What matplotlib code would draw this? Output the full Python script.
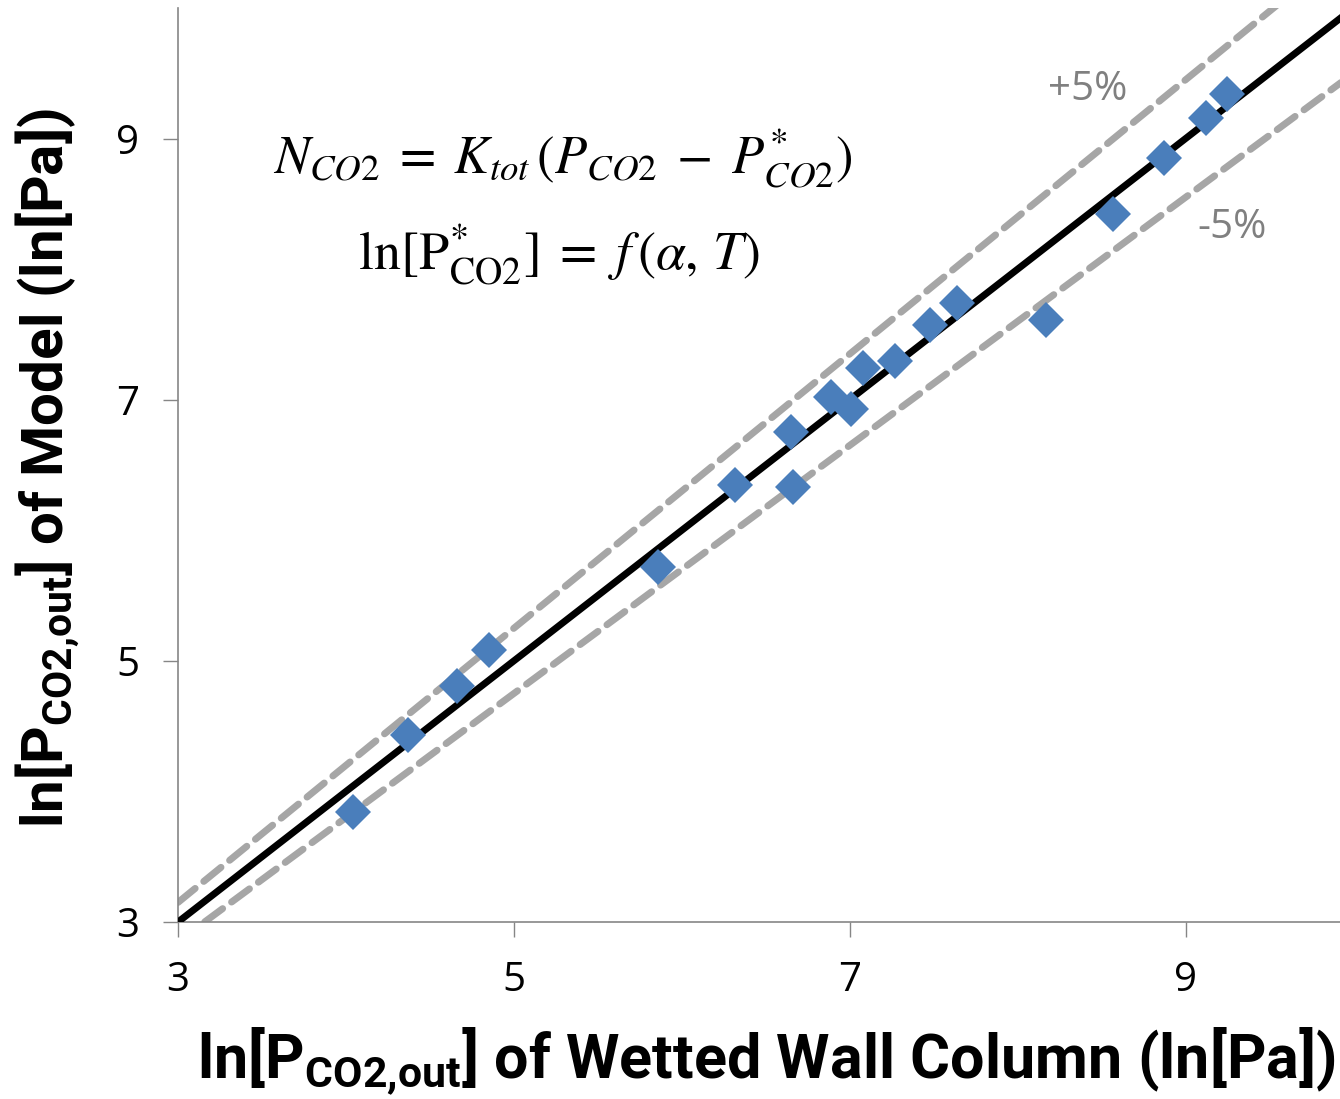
import matplotlib.pyplot as plt
import numpy as np

# ln[P_CO2,out] values
wwc = [4.04, 4.37, 4.66, 4.85, 5.86, 6.32, 6.65, 6.66, 6.89, 7.01,
       7.08, 7.27, 7.48, 7.64, 8.17, 8.57, 8.87, 9.12, 9.25]
model = [3.84, 4.43, 4.81, 5.08, 5.72, 6.35, 6.75, 6.33, 7.02, 6.93,
         7.24, 7.30, 7.57, 7.74, 7.61, 8.42, 8.85, 9.16, 9.34]

ref_x = [3, 10]
band = 0.05  # +/- 5 %

xticks = [3, 5, 7, 9]
yticks = [3, 5, 7, 9]

fig = plt.figure(figsize=(13.4, 10.99), dpi=100)
ax = fig.add_axes([0.1328, 0.161, 0.8672, 0.8317])

line_x = np.array(ref_x, dtype=float)
ax.plot(line_x, line_x * (1 + band), color='#A6A6A6', lw=5, ls=(0, (3.2, 1.6)),
        dash_capstyle='round', zorder=2)
ax.plot(line_x, line_x * (1 - band), color='#A6A6A6', lw=5, ls=(0, (3.2, 1.6)),
        dash_capstyle='round', zorder=2)
ax.plot(line_x, line_x, color='black', lw=5, zorder=3)

ax.plot(wwc, model, ls='none', marker='D', markersize=18, color='#4A7EBB',
        markeredgewidth=0, zorder=4)

ax.set_xlim(3, 9.92)
ax.set_ylim(3, 10)
ax.set_xticks(xticks)
ax.set_yticks(yticks)
ax.set_xticklabels([str(t) for t in xticks], family='Open Sans')
ax.set_yticklabels([str(t) for t in yticks], family='Open Sans')
ax.tick_params(axis='both', direction='out', length=11, width=1, color='#868686',
               labelsize=29, pad=17)

for s in ['top', 'right']:
    ax.spines[s].set_visible(False)
for s in ['left', 'bottom']:
    ax.spines[s].set_color('#868686')
    ax.spines[s].set_linewidth(1.2)

# equations
ax.text(5.29, 8.85, r'$N_{CO2}\;=\;K_{tot}\,(P_{CO2}\;-\;P^{*}_{CO2})$', fontsize=38,
        ha='center', va='center', math_fontfamily='stix')
ax.text(5.27, 8.11, r'$\mathrm{ln[P^{*}_{CO2}]}\;=\;f\,(\alpha,\, T)$', fontsize=39,
        ha='center', va='center', math_fontfamily='stix')

ax.text(8.42, 9.375, '+5%', fontsize=29, color='#808080', ha='center', va='center',
        family='Open Sans')
ax.text(9.28, 8.32, '-5%', fontsize=29, color='#808080', ha='center', va='center',
        family='Open Sans')

lab_font = ['Roboto', 'DejaVu Sans']
fig.text(0.5716, 0.034,
         r'ln[P$_{\mathregular{CO2{,}out}}$] of Wetted Wall Column (ln[Pa])',
         fontsize=44, fontweight='bold', family=lab_font, ha='center', va='center')
fig.text(0.036, 0.574,
         r'ln[P$_{\mathregular{CO2{,}out}}$] of Model (ln[Pa])',
         fontsize=42, fontweight='bold', family=lab_font, ha='center', va='center',
         rotation=90)

fig.savefig('out.png', dpi=100)
